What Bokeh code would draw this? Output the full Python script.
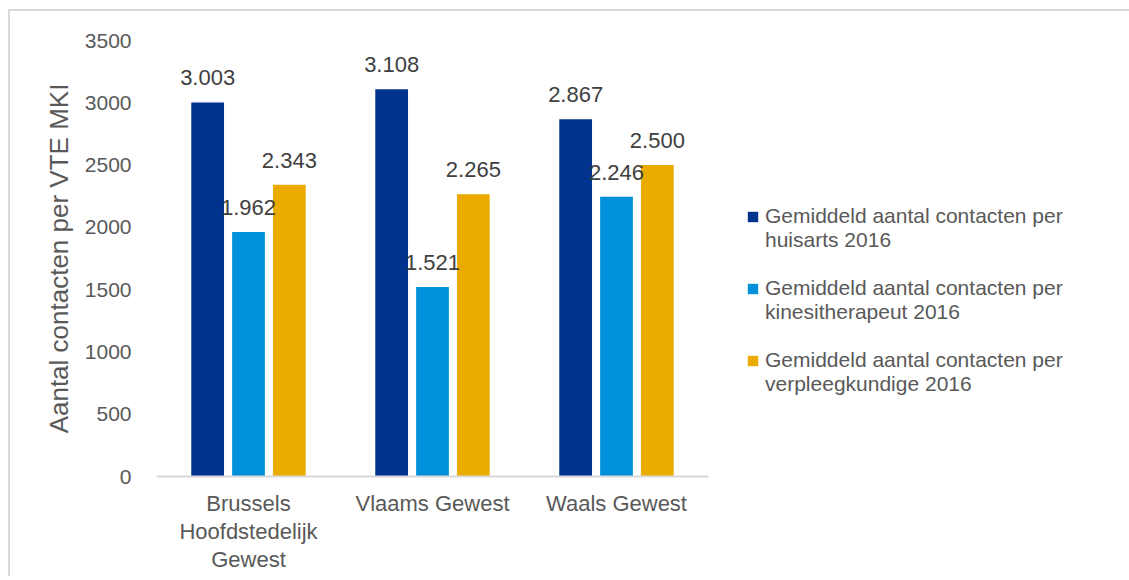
from bokeh.plotting import figure
from bokeh.models import (ColumnDataSource, FactorRange, Range1d, FixedTicker,
                          Legend, LegendItem, LabelSet, CategoricalAxis)
from bokeh.transform import dodge
from bokeh.core.properties import value
from bokeh.embed import file_html
from bokeh.resources import INLINE

# ---- data ----
categories = ["Brussels Hoofdstedelijk Gewest", "Vlaams Gewest", "Waals Gewest"]
# category tick labels, one list per text line (blank slots differ in length to stay unique)
category_label_lines = [
    ["Brussels", "Vlaams Gewest", "Waals Gewest"],
    ["Hoofdstedelijk", " ", "  "],
    ["Gewest", "   ", "    "],
]
huisarts = [3003, 3108, 2867]
kinesitherapeut = [1962, 1521, 2246]
verpleegkundige = [2343, 2265, 2500]
legend_line1 = ["Gemiddeld aantal contacten per"] * 3
legend_line2 = ["huisarts 2016", "kinesitherapeut 2016", "verpleegkundige 2016"]
y_ticks = [0, 500, 1000, 1500, 2000, 2500, 3000, 3500]
y_title = "Aantal contacten per VTE MKI"

colors = ["#00338D", "#0091DA", "#EAAA00"]
FONT = "Liberation Sans"
TXT = "#595959"


def fmt(v):
    return f"{v:,}".replace(",", ".")


src = ColumnDataSource(dict(
    cat=categories,
    s0=huisarts, s1=kinesitherapeut, s2=verpleegkundige,
    l0=[fmt(v) for v in huisarts],
    l1=[fmt(v) for v in kinesitherapeut],
    l2=[fmt(v) for v in verpleegkundige],
))

p = figure(x_range=FactorRange(*categories), y_range=Range1d(0, 3500),
           frame_width=552, frame_height=436,
           min_border_left=146, min_border_top=29, min_border_bottom=100,
           min_border_right=419,
           output_backend="svg", toolbar_location=None)
p.margin = (9, 0, 0, 8)
p.styles = {"border-top": "2px solid #d9d9d9", "border-left": "2px solid #d9d9d9"}

offsets = [-0.222, 0.0, 0.222]
renderers = []
for i, off in enumerate(offsets):
    r = p.vbar(x=dodge("cat", off, range=p.x_range), top=f"s{i}", width=0.178,
               source=src, fill_color=colors[i], line_color=None)
    renderers.append(r)
    lbl = LabelSet(x=dodge("cat", off, range=p.x_range), y=f"s{i}", text=f"l{i}",
                   source=src, y_offset=17, text_align="center",
                   text_baseline="alphabetic", text_font=value(FONT),
                   text_font_size="22px", text_color="#404040")
    p.add_layout(lbl)

# transparent helper renderer for legend rows without a swatch
blank = p.scatter(x=[], y=[], alpha=0)

# grids / outline
p.xgrid.grid_line_color = None
p.ygrid.grid_line_color = None
p.outline_line_color = None

# y axis
p.yaxis.ticker = FixedTicker(ticks=y_ticks)
p.yaxis.axis_line_color = None
p.yaxis.major_tick_line_color = None
p.yaxis.minor_tick_line_color = None
p.yaxis.major_tick_out = 0
p.yaxis.major_tick_in = 0
p.yaxis.major_label_standoff = 25
p.yaxis.major_label_text_font = FONT
p.yaxis.major_label_text_font_size = "21px"
p.yaxis.major_label_text_color = TXT
p.yaxis.axis_label = y_title
p.yaxis.axis_label_text_font = FONT
p.yaxis.axis_label_text_font_size = "26px"
p.yaxis.axis_label_text_font_style = "normal"
p.yaxis.axis_label_text_color = TXT
p.yaxis.axis_label_standoff = 8

# x axis: default one hidden, three stacked axes show the label lines
p.below[0].visible = False
for k, lines in enumerate(category_label_lines):
    name = f"line{k}"
    p.extra_x_ranges[name] = FactorRange(*lines)
    ax = CategoricalAxis(x_range_name=name)
    ax.major_tick_line_color = None
    ax.minor_tick_line_color = None
    ax.major_tick_out = 0
    ax.major_tick_in = 0
    ax.major_label_text_font = FONT
    ax.major_label_text_font_size = "22px"
    ax.major_label_text_color = TXT
    if k == 0:
        ax.axis_line_color = "#d9d9d9"
        ax.axis_line_width = 2
        ax.major_label_standoff = 14
    else:
        ax.axis_line_color = None
        ax.major_label_standoff = 0
    p.add_layout(ax, "below")

# legend: swatch aligned with the first text line of each entry
items = []
for i in range(3):
    items.append(LegendItem(label=legend_line1[i], renderers=[renderers[i]]))
    items.append(LegendItem(label=legend_line2[i], renderers=[blank]))
    if i < 2:
        items.append(LegendItem(label=" ", renderers=[blank]))

legend = Legend(items=items, location=(38, 80), padding=0, margin=0, spacing=0,
                glyph_width=13, glyph_height=13, label_standoff=6, label_height=24,
                label_text_font=FONT, label_text_font_size="21px",
                label_text_color=TXT,
                border_line_color=None, background_fill_alpha=0)
p.add_layout(legend, "right")

open("out.html", "w").write(file_html(p, INLINE))
